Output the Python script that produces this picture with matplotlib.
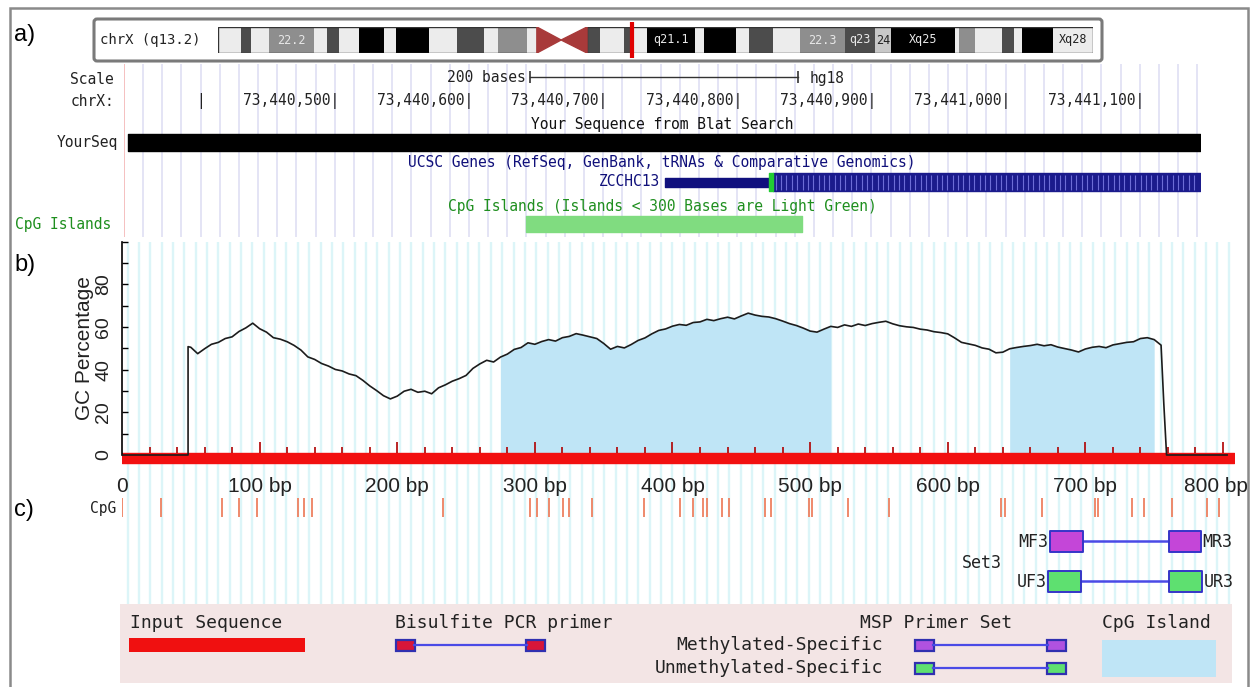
import numpy as np
import matplotlib
matplotlib.use("Agg")
import matplotlib.pyplot as plt
from matplotlib.patches import Rectangle, Polygon, FancyBboxPatch
from matplotlib.transforms import blended_transform_factory

W, H, DPI = 1251, 687, 100
MONO = "DejaVu Sans Mono"
SANS = "Liberation Sans"

# ---------------- data ----------------
# chrX ideogram (Mb)
band_starts = [0, 4.1, 5.9, 9.1, 17.0, 19.3, 21.5, 25.0, 29.5, 31.6, 37.4, 42.4, 47.2, 49.7, 54.8,
               65.5, 67.8, 72.0, 73.3, 76.1, 84.6, 86.2, 91.9, 94.2, 98.5, 103.3, 111.3, 116.6,
               119.4, 130.8, 131.5, 134.3, 139.1, 141.2, 142.7, 148.2]
band_ends = [4.1, 5.9, 9.1, 17.0, 19.3, 21.5, 25.0, 29.5, 31.6, 37.4, 42.4, 47.2, 49.7, 54.8, 56.6,
             67.8, 72.0, 73.3, 76.1, 84.6, 86.2, 91.9, 94.2, 98.5, 103.3, 111.3, 116.6, 119.4,
             130.8, 131.5, 134.3, 139.1, 141.2, 142.7, 148.2, 155.3]
band_stains = ["gneg", "gpos75", "gneg", "gpos50", "gneg", "gpos75", "gneg", "gpos100", "gneg",
               "gpos100", "gneg", "gpos75", "gneg", "gpos50", "gneg",
               "gpos75", "gneg", "gpos75", "gneg", "gpos100", "gneg", "gpos100", "gneg", "gpos75",
               "gneg", "gpos50", "gpos75", "gpos25", "gpos100", "gneg", "gpos50", "gneg", "gpos75",
               "gneg", "gpos100", "gneg"]
band_labels = ["", "", "", "22.2", "", "", "", "", "", "", "", "", "", "", "",
               "", "", "", "", "q21.1", "", "", "", "", "", "22.3", "q23", "24", "Xq25",
               "", "", "", "", "", "", "Xq28"]
centromere = (56.6, 60.9, 65.5)
chrom_len = 155.3
marker_mb = 73.4405

# genome browser window (hg18 chrX coordinates)
win_start, win_end = 73440342.7, 73441144.8
pos_ticks = [73440400, 73440500, 73440600, 73440700, 73440800, 73440900, 73441000, 73441100]
scale_start, scale_bases = 73440645.5, 200
yourseq = (73440345.5, 73441144.8)
gene_name = "ZCCHC13"
gene_start, cds_start, gene_end = 73440746.0, 73440826.5, 73441144.8
cpg_island_ucsc = (73440642.4, 73440848.2)

# MethPrimer GC plot
seq_len = 808
gc_bp = [0, 48, 48] + list(range(50, 760, 5)) + [757, 759, 803]
gc_pct = [0, 0, 50.8,
          50.5, 47.5, 49.8, 51.9, 52.8, 54.6, 55.4, 57.9, 59.6, 61.8,
          59.2, 57.6, 55.0, 54.3, 53.1, 51.4, 49.2, 46.0, 44.8, 42.9,
          41.7, 40.1, 39.4, 38.0, 37.2, 35.0, 32.4, 30.2, 27.8, 26.3,
          27.6, 29.9, 30.8, 29.4, 29.9, 28.7, 31.5, 32.9, 34.6, 35.8,
          37.3, 40.6, 42.7, 44.4, 43.6, 45.9, 47.3, 49.5, 50.4, 52.6,
          51.9, 53.2, 54.1, 53.4, 55.0, 55.6, 56.9, 56.2, 55.4, 54.6,
          52.3, 49.6, 50.9, 50.2, 51.8, 53.7, 54.9, 56.8, 58.4, 59.1,
          60.4, 61.2, 60.8, 62.1, 62.4, 63.6, 63.0, 63.9, 64.6, 63.8,
          65.2, 66.5, 65.6, 65.0, 64.7, 63.9, 62.8, 61.6, 60.7, 59.5,
          58.1, 57.6, 59.0, 60.3, 59.8, 61.0, 60.3, 61.4, 60.7, 61.6,
          62.2, 62.7, 61.5, 60.6, 60.1, 59.8, 59.0, 58.6, 57.8, 57.4,
          56.8, 54.9, 52.8, 52.1, 51.4, 50.2, 49.6, 47.9, 48.2, 49.8,
          50.4, 50.9, 51.3, 51.9, 51.2, 51.7, 50.6, 49.9, 49.2, 48.3,
          49.7, 50.5, 50.9, 50.3, 51.6, 52.2, 52.8, 53.1, 54.6, 55.0,
          54.1, 51.5,
          24.0, 0, 0]
cpg_islands = [(272, 519), (645, 750)]
x_ticks = [0, 100, 200, 300, 400, 500, 600, 700, 800]
x_tick_labels = ["0", "100 bp", "200 bp", "300 bp", "400 bp", "500 bp", "600 bp", "700 bp", "800 bp"]
y_ticks = [0, 10, 20, 30, 40, 50, 60, 70, 80, 90, 100]
y_tick_labels = ["0", "", "20", "", "40", "", "60", "", "80", "", ""]

# CpG sites and MSP primers (bp)
cpg_sites = [0.3, 28.5, 72.9, 84.8, 98.1, 127.8, 132.2, 137.9, 233.1, 296.7, 301.2, 310.1, 320.3,
             324.6, 341.3, 379.4, 405.5, 415.0, 422.4, 424.8, 435.7, 441.1, 466.9, 471.3, 499.5,
             501.6, 527.7, 557.3, 638.8, 641.7, 668.4, 707.0, 709.1, 733.6, 742.6, 763.3, 788.6,
             797.4]
primer_set = "Set3"
meth_primers = {"MF3": (674, 698), "MR3": (761, 784)}
unmeth_primers = {"UF3": (673, 697), "UR3": (761, 785)}

# ---------------- figure ----------------
fig = plt.figure(figsize=(W / DPI, H / DPI), dpi=DPI)


def px_axes(x0, y0, x1, y1, z=1):
    ax = fig.add_axes([x0 / W, 1 - y1 / H, (x1 - x0) / W, (y1 - y0) / H])
    ax.set_zorder(z)
    return ax


frame = px_axes(0, 0, W, H, z=0)
frame.set_xlim(0, W)
frame.set_ylim(H, 0)
frame.axis("off")

# outer border
frame.plot([10, 10, 1248, 1248], [H, 8, 8, H], color="#8a8a8a", lw=1.8, solid_joinstyle="miter")

# panel labels
for lab, yy in [("a)", 35), ("b)", 265), ("c)", 510)]:
    frame.text(14, yy, lab, fontsize=17, family=SANS, va="center", ha="left", color="black")

# ---- panel a: ideogram ----
frame.add_patch(FancyBboxPatch((94, 19), 1008, 42, boxstyle="round,pad=0,rounding_size=3",
                               fc="white", ec="#7a7a7a", lw=2.2))
frame.text(100, 40, "chrX (q13.2)", family=MONO, fontsize=10, va="center", ha="left", color="#222")

stain_col = {"gneg": "#ececec", "gpos25": "#c8c8c8", "gpos50": "#8e8e8e",
             "gpos75": "#4c4c4c", "gpos100": "#000000"}
ax_id = px_axes(218, 27, 1093, 53, z=2)
ax_id.set_xlim(0, chrom_len)
ax_id.set_ylim(0, 1)
ax_id.axis("off")
for s, e, st, lb in zip(band_starts, band_ends, band_stains, band_labels):
    ax_id.add_patch(Rectangle((s, 0), e - s, 1, fc=stain_col[st], ec="none"))
    if lb:
        tc = "#222" if st in ("gneg", "gpos25") else "#e8e8e8"
        ax_id.text((s + e) / 2, 0.5, lb, family=MONO, fontsize=8.5, color=tc,
                   ha="center", va="center")
c0, cm, c1 = centromere
ax_id.add_patch(Rectangle((0, 0), c0, 1, fill=False, ec="#333", lw=1.0))
ax_id.add_patch(Rectangle((c1, 0), chrom_len - c1, 1, fill=False, ec="#333", lw=1.0))
ax_id.add_patch(Polygon([(c0, 0), (c0, 1), (cm, 0.5)], closed=True, fc="#a83a3a", ec="#a83a3a"))
ax_id.add_patch(Polygon([(c1, 0), (c1, 1), (cm, 0.5)], closed=True, fc="#a83a3a", ec="#a83a3a"))
ax_id.plot([marker_mb, marker_mb], [-0.2, 1.2], color="#e00000", lw=3, clip_on=False,
           solid_capstyle="butt")

# ---- panel a: browser tracks ----
frame.text(114, 79, "Scale", family=MONO, fontsize=10.5, ha="right", va="center", color="#222")
frame.text(114, 101, "chrX:", family=MONO, fontsize=10.5, ha="right", va="center", color="#222")
frame.text(118, 142, "YourSeq", family=MONO, fontsize=10.5, ha="right", va="center", color="#222")
frame.text(15, 224, "CpG Islands", family=MONO, fontsize=10.5, ha="left", va="center",
           color="#1f8f1f")

ax_a = px_axes(124, 62, 1200, 237, z=1)
ax_a.set_xlim(win_start, win_end)
ax_a.set_ylim(237, 62)
ax_a.axis("off")
ax_a.vlines(np.arange(win_start + 100 / 7, win_end, 100 / 7), 64, 237, color="#dcdcf3", lw=1.1,
            zorder=0)
ax_a.vlines([win_start], 64, 237, color="#f3b5b5", lw=1.2, zorder=0)

# scale bar
sb0, sb1 = scale_start, scale_start + scale_bases
ax_a.plot([sb0, sb1], [77, 77], color="#333", lw=1)
ax_a.vlines([sb0, sb1], 71, 83, color="#333", lw=1.2)
ax_a.text(sb0 - 3, 78, f"{scale_bases} bases", family=MONO, fontsize=10.5, ha="right",
          va="center", color="#222")
ax_a.text(sb1 + 8, 78, "hg18", family=MONO, fontsize=10.5, ha="left", va="center", color="#222")

# position ticks
for p in pos_ticks:
    lab = "|" if p == pos_ticks[0] else f"{p:,}|"
    ax_a.text(p + 3.3, 101, lab, family=MONO, fontsize=10.5, ha="right", va="center", color="#222")

mid = (win_start + win_end) / 2
ax_a.text(mid, 124, "Your Sequence from Blat Search", family=MONO, fontsize=10.5, ha="center",
          va="center", color="#111")
ax_a.broken_barh([(yourseq[0], yourseq[1] - yourseq[0])], (134, 17), color="black")

ax_a.text(mid, 163, "UCSC Genes (RefSeq, GenBank, tRNAs & Comparative Genomics)", family=MONO,
          fontsize=10.5, ha="center", va="center", color="#10107a")
ax_a.text(gene_start - 4, 182, gene_name, family=MONO, fontsize=10.5, ha="right", va="center",
          color="#10107a")
ax_a.broken_barh([(gene_start, cds_start - gene_start)], (177.5, 9), color="#10107e")
ax_a.broken_barh([(cds_start, gene_end - cds_start)], (173, 18), color="#1b1b8c")
ax_a.vlines(np.arange(cds_start + 2, gene_end - 2, 4), 174.5, 189.5, color="#6c6cd6", lw=0.8)
ax_a.broken_barh([(cds_start - 3, 3)], (173, 18), color="#22cc33")

ax_a.text(mid, 207, "CpG Islands (Islands < 300 Bases are Light Green)", family=MONO,
          fontsize=10.5, ha="center", va="center", color="#1f8f1f")
ax_a.broken_barh([(cpg_island_ucsc[0], cpg_island_ucsc[1] - cpg_island_ucsc[0])], (216, 16),
                 color="#80dc80")

# ---- panel b: GC plot ----
gc_x = np.array(gc_bp, dtype=float)
gc_y = np.array(gc_pct, dtype=float)
stripe_x = np.arange(4, seq_len, 8.25)

ax_b = px_axes(122, 241.7, 1234, 466, z=3)
ax_b.set_xlim(0, seq_len)
ax_b.set_ylim(-5.16, 100)
ax_b.vlines(stripe_x, -5.16, 100, color="#dcf5f8", lw=1.7, zorder=0)
for s, e in cpg_islands:
    m = (gc_x >= s) & (gc_x <= e)
    ax_b.fill_between(gc_x[m], 1.1, gc_y[m], color="#bfe5f6", lw=0, zorder=1)
ax_b.broken_barh([(0, seq_len)], (-3.75, 4.85), color="#f21010", zorder=2)
ticks20 = np.arange(20, seq_len, 20)
ax_b.vlines([t for t in ticks20 if t % 100], 1.1, 3.6, color="#b00000", lw=1.2, zorder=2)
ax_b.vlines([t for t in ticks20 if t % 100 == 0], 1.1, 6.0, color="#b00000", lw=1.2, zorder=2)
ax_b.plot(gc_x, gc_y, color="#1c1c1c", lw=1.2, zorder=3)

for sp in ("top", "right", "bottom"):
    ax_b.spines[sp].set_visible(False)
ax_b.spines["left"].set_bounds(0, 100)
ax_b.spines["left"].set_linewidth(1.2)
ax_b.set_yticks(y_ticks)
ax_b.set_yticklabels(y_tick_labels, rotation=90, fontsize=14, family=SANS, color="#222",
                     va="center")
ax_b.tick_params(axis="y", direction="in", length=4.5, width=1.0, pad=7)
ax_b.set_xticks([])
xlab_tr = blended_transform_factory(ax_b.transData, frame.transData)
for xt, lab in zip(x_ticks, x_tick_labels):
    xpos = min(xt, seq_len - 13)  # keep the last label inside the picture
    ax_b.text(xpos, 486, lab, transform=xlab_tr, fontsize=15, family=SANS, color="#222",
              ha="center", va="center", clip_on=False)
frame.text(85, 348, "GC Percentage", rotation=90, fontsize=15, family=SANS, color="#222",
           ha="center", va="center")

# ---- panel c: CpG sites and primers ----
ax_c = px_axes(122, 466, 1234, 604, z=2)
ax_c.set_xlim(0, seq_len)
ax_c.set_ylim(604, 466)
ax_c.axis("off")
ax_c.vlines(stripe_x, 466, 604, color="#dcf5f8", lw=1.7, zorder=0)
ax_c.vlines(cpg_sites, 498, 517, color="#ee8060", lw=1.3, zorder=2)
frame.text(116, 508, "CpG", family=MONO, fontsize=10.5, ha="right", va="center", color="#222")


def primer_pair(ax, pair, yc, fc, lw_box=1.4):
    (n1, (a0, a1)), (n2, (b0, b1)) = pair
    ax.plot([a1, b0], [yc, yc], color="#4a4ae6", lw=1.8, zorder=2)
    ax.broken_barh([(a0, a1 - a0), (b0, b1 - b0)], (yc - 10.5, 21), facecolors=fc,
                   edgecolors="#3535c8", lw=lw_box, zorder=3)
    ax.text(a0 - 1, yc + 1, n1, family=MONO, fontsize=12, ha="right", va="center", color="#222",
            zorder=4)
    ax.text(b1 + 1, yc + 1, n2, family=MONO, fontsize=12, ha="left", va="center", color="#222",
            zorder=4, clip_on=False)


primer_pair(ax_c, list(meth_primers.items()), 541, "#c446d8")
primer_pair(ax_c, list(unmeth_primers.items()), 581, "#5ee070")
ax_c.text(1002, 563, primer_set, transform=frame.transData, family=MONO, fontsize=12,
          ha="right", va="center", color="#222", zorder=4)

# ---- legend ----
frame.add_patch(Rectangle((120, 604), 1112, 79, fc="#f3e5e5", ec="none"))
LF = 13
frame.text(130, 623, "Input Sequence", family=MONO, fontsize=LF, ha="left", va="center",
           color="#222")
frame.add_patch(Rectangle((129, 638), 176, 14, fc="#f01010", ec="none"))
frame.text(395, 623, "Bisulfite PCR primer", family=MONO, fontsize=LF, ha="left", va="center",
           color="#222")


def legend_icon(x0, x1, yc, fc):
    frame.plot([x0 + 18, x1 - 18], [yc, yc], color="#4a4ae6", lw=1.6)
    frame.add_patch(Rectangle((x0, yc - 5.5), 19, 11, fc=fc, ec="#3030b0", lw=1.6))
    frame.add_patch(Rectangle((x1 - 19, yc - 5.5), 19, 11, fc=fc, ec="#3030b0", lw=1.6))


legend_icon(396, 545, 645, "#d8163a")
frame.text(1012, 623, "MSP Primer Set", family=MONO, fontsize=LF, ha="right", va="center",
           color="#222")
frame.text(883, 645, "Methylated-Specific", family=MONO, fontsize=LF, ha="right", va="center",
           color="#222")
frame.text(883, 668, "Unmethylated-Specific", family=MONO, fontsize=LF, ha="right", va="center",
           color="#222")
legend_icon(915, 1066, 645, "#b052e0")
legend_icon(915, 1066, 668, "#5ee070")
frame.text(1102, 623, "CpG Island", family=MONO, fontsize=LF, ha="left", va="center", color="#222")
frame.add_patch(Rectangle((1102, 640), 114, 37, fc="#bfe5f6", ec="none"))

fig.savefig("out.png", dpi=DPI)
